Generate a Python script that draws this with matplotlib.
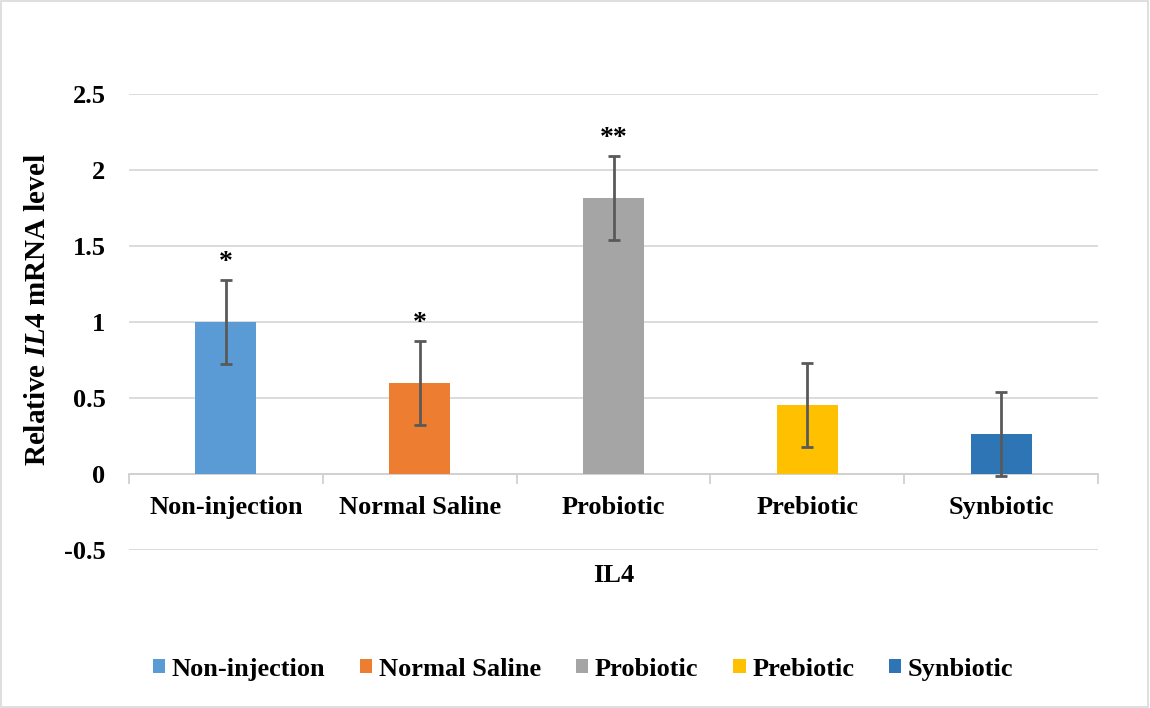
import matplotlib
matplotlib.use("Agg")
import matplotlib.pyplot as plt
import numpy as np
from matplotlib.patches import Rectangle, Patch

plt.rcParams['font.family'] = ['Liberation Serif', 'DejaVu Serif']
plt.rcParams['font.weight'] = 'bold'
plt.rcParams['mathtext.fontset'] = 'custom'
plt.rcParams['mathtext.rm'] = 'Liberation Serif:bold'
plt.rcParams['mathtext.it'] = 'Liberation Serif:italic:bold'
plt.rcParams['mathtext.bf'] = 'Liberation Serif:bold'

categories = ["Non-injection", "Normal Saline", "Probiotic", "Prebiotic", "Synbiotic"]
values = [1.0, 0.60, 1.815, 0.455, 0.265]
errors = [0.275, 0.275, 0.275, 0.275, 0.275]
stars = ["*", "*", "**", "", ""]
colors = ["#5B9BD5", "#ED7D31", "#A5A5A5", "#FFC000", "#2E75B6"]
yticks = [-0.5, 0, 0.5, 1, 1.5, 2, 2.5]
ytick_labels = ["-0.5", "0", "0.5", "1", "1.5", "2", "2.5"]

FS = 19

fig = plt.figure(figsize=(11.5, 7.08), dpi=100)
fig.patches.append(Rectangle((0.001, 0.001), 0.997, 0.997, transform=fig.transFigure,
                             fill=False, edgecolor="#d9d9d9", linewidth=1.2))
ax = fig.add_axes([0.1122, 0.2232, 0.8426, 0.644])

x = np.arange(len(categories))
ax.bar(x, values, width=0.315, color=colors, zorder=3)
ax.errorbar(x, values, yerr=errors, fmt="none", ecolor="#595959", elinewidth=2,
            capsize=4.5, capthick=2, zorder=4)
for xi, v, e, s in zip(x, values, errors, stars):
    if s:
        ax.text(xi, v + e + 0.035, s, ha="center", va="bottom", fontsize=20,
                fontweight="bold", color="black")

ax.set_xlim(-0.5, len(categories) - 0.5)
ax.set_ylim(-0.5, 2.5)
ax.set_yticks(yticks)
ax.set_yticklabels(ytick_labels, fontsize=FS, fontweight="bold")
ax.tick_params(axis="y", length=0, pad=17)
ax.grid(axis="y", color="#d9d9d9", linewidth=1.3, zorder=0)
ax.set_axisbelow(True)

for side in ["left", "right", "top"]:
    ax.spines[side].set_visible(False)
ax.spines["bottom"].set_position(("data", 0))
ax.spines["bottom"].set_color("#d0d0d0")
ax.spines["bottom"].set_linewidth(1.3)
ax.set_xticks(x)
ax.set_xticklabels(categories, fontsize=FS, fontweight="bold")
ax.set_xticks(np.arange(len(categories) + 1) - 0.5, minor=True)
ax.tick_params(axis="x", which="major", length=0, pad=16)
ax.tick_params(axis="x", which="minor", length=7, color="#d0d0d0", width=1.3)

ax.set_xlabel("IL4", fontsize=FS, fontweight="bold")
ax.xaxis.set_label_coords(0.5, -0.03)
ax.set_ylabel(r"Relative $\mathit{IL4}$ mRNA level", fontsize=21, fontweight="bold")
ax.yaxis.set_label_coords(-0.081, 0.528)

handles = [Patch(facecolor=c, edgecolor="none") for c in colors]
fig.legend(handles, categories, loc="center", bbox_to_anchor=(0.507, 0.055), ncol=5,
           frameon=False, prop={"size": FS, "weight": "bold"}, handlelength=0.47,
           handleheight=0.47, handletextpad=0.25, columnspacing=1.32)

fig.savefig("out.png", dpi=100)
